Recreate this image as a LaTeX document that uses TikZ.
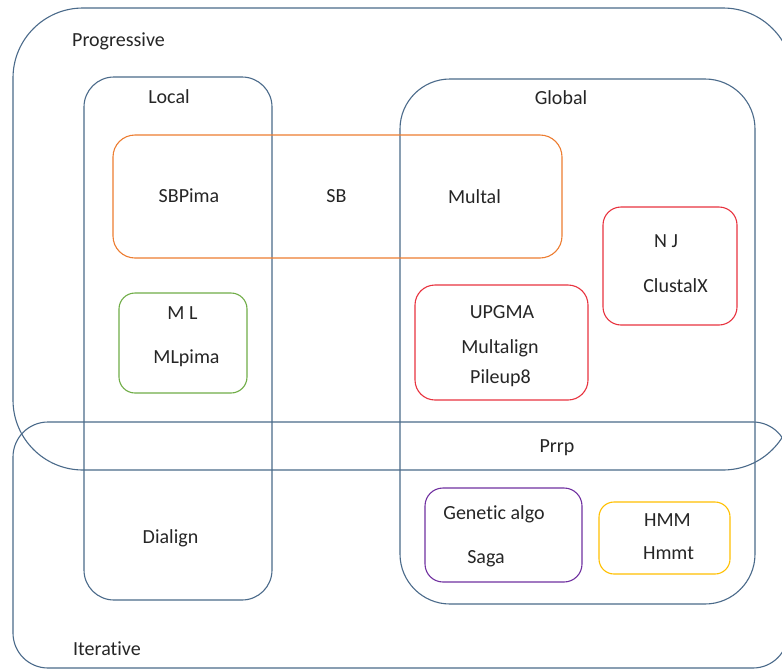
\documentclass[tikz,border=0pt]{standalone}
\usepackage{fontspec}
\setmainfont{Carlito}[Ligatures=NoCommon]
\definecolor{frame}{HTML}{4A6A8A}
\definecolor{txt}{HTML}{262626}
\definecolor{orangeline}{HTML}{ED7D31}
\definecolor{greenline}{HTML}{70AD47}
\definecolor{redline}{HTML}{E8333F}
\definecolor{purpleline}{HTML}{7030A0}
\definecolor{yellowline}{HTML}{FFC000}
\begin{document}
\begin{tikzpicture}[x=1pt,y=-1pt,
  region/.style args={#1/#2}{draw=#1, line width=1.1pt, rounded corners=#2, inner sep=0pt},
  lbl/.style={text=txt, inner sep=0pt, font=\fontsize{20}{24}\selectfont}]
\useasboundingbox (0,0) rectangle (782,670);
\fill[white] (0,0) rectangle (782,670);
\clip (0,0) rectangle (782,670);
% large regions
\node[region=frame/70pt, minimum width=780pt, minimum height=462pt] (progressive) at (403,239) {};
\node[region=frame/35pt, minimum width=775pt, minimum height=246pt] (iterative) at (400.5,545) {};
\node[region=frame/30pt, minimum width=188pt, minimum height=523pt] (local) at (178,338.5) {};
\node[region=frame/50pt, minimum width=355pt, minimum height=525pt] (global) at (577.5,341.5) {};
% inner boxes
\node[region=orangeline/22pt, minimum width=449pt, minimum height=123pt] (sbbox) at (337.5,196.5) {};
\node[region=greenline/16pt, minimum width=128pt, minimum height=100pt] (mlbox) at (183,343) {};
\node[region=redline/20pt, minimum width=173pt, minimum height=115pt] (upgmabox) at (501.5,342.5) {};
\node[region=redline/18pt, minimum width=134pt, minimum height=118pt] (njbox) at (670,266) {};
\node[region=purpleline/18pt, minimum width=157pt, minimum height=94pt] (gabox) at (503.5,535) {};
\node[region=yellowline/15pt, minimum width=131pt, minimum height=72pt] (hmmbox) at (664.5,538) {};
% labels
\node[lbl, anchor=base west] (tprog) at (72,46) {Progressive};
\node[lbl, anchor=base west] (titer) at (73,655) {Iterative};
\node[lbl, anchor=base] (tlocal) at (169,103) {Local};
\node[lbl, anchor=base] (tglobal) at (561,104) {Global};
\node[lbl, anchor=base] (tsbpima) at (189,202) {SBPima};
\node[lbl, anchor=base] (tsb) at (336.5,202) {SB};
\node[lbl, anchor=base] (tmultal) at (474.5,203) {Multal};
\node[lbl, anchor=base] (tnj) at (666,247) {N J};
\node[lbl, anchor=base] (tclustal) at (675.5,292) {ClustalX};
\node[lbl, anchor=base] (tml) at (182.5,319) {M L};
\node[lbl, anchor=base] (tmlpima) at (186.5,363) {MLpima};
\node[lbl, anchor=base] (tupgma) at (502,318) {UPGMA};
\node[lbl, anchor=base] (tmultalign) at (500,353) {Multalign};
\node[lbl, anchor=base] (tpileup) at (500.5,383) {Pileup8};
\node[lbl, anchor=base] (tprrp) at (557,452) {Prrp};
\node[lbl, anchor=base] (tdialign) at (170.5,543) {Dialign};
\node[lbl, anchor=base] (tgenetic) at (494,519) {Genetic algo};
\node[lbl, anchor=base] (tsaga) at (486,563) {Saga};
\node[lbl, anchor=base] (thmm) at (667.5,526) {HMM};
\node[lbl, anchor=base] (thmmt) at (668.5,559) {Hmmt};
\end{tikzpicture}
\end{document}
